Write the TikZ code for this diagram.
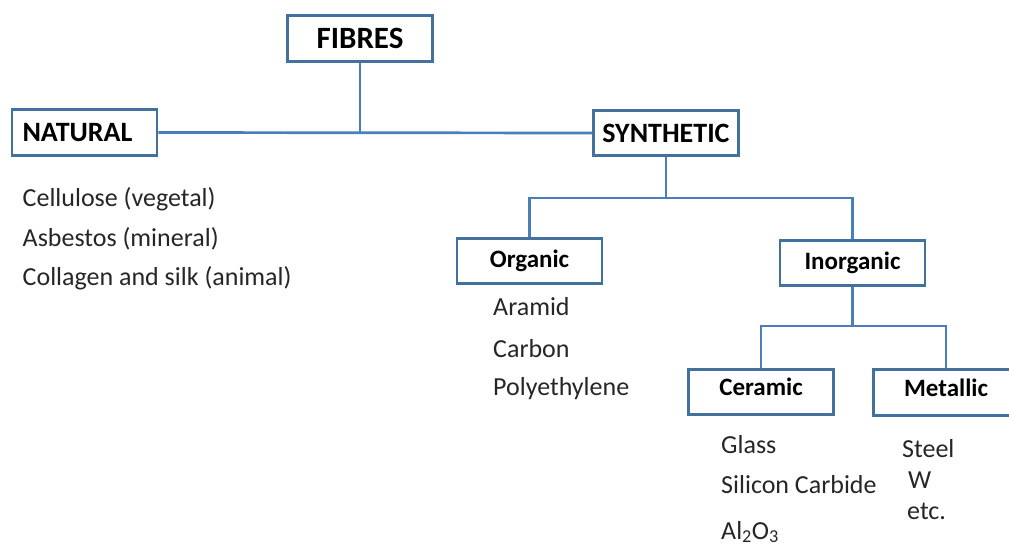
\documentclass[tikz,border=0pt]{standalone}
\usepackage{fontspec}
\setmainfont{Carlito}
\definecolor{boxblue}{HTML}{41719C}
\definecolor{lineblue}{HTML}{4A7EBB}
\definecolor{txt}{HTML}{262626}
\begin{document}
\begin{tikzpicture}[x=1pt,y=-1pt,
  box/.style={draw=boxblue, line width=2.9pt, fill=white, inner sep=0pt,
    minimum width=145pt, minimum height=45.5pt, text=black},
  big/.style={box, font=\fontsize{28}{30}\selectfont\bfseries},
  mid/.style={box, font=\fontsize{25}{27}\selectfont\bfseries},
  item/.style={anchor=base west, inner sep=0pt, text=txt, font=\fontsize{26}{28}\selectfont},
  conn/.style={draw=lineblue, line width=2.7pt}]
\useasboundingbox (0,0) rectangle (1009,546);
\clip (0,0) rectangle (1009,546);
% junctions
\coordinate (j1) at (360,132.5);
\coordinate (j2) at (666,198);
\coordinate (j3) at (852.5,326);
% boxes
\node[big, font=\fontsize{31}{33}\selectfont\bfseries] (fibres) at (360,38.5) {\raisebox{-2pt}{FIBRES}};
\node[big] (natural) at (84.5,132.5) {\raisebox{-1.5pt}{NATURAL}\hspace*{14pt}};
\node[big] (synthetic) at (666,133) {\raisebox{-1.5pt}{SYNTHETIC}};
\node[mid] (organic) at (529.5,261) {\raisebox{3pt}{Organic}};
\node[mid] (inorganic) at (852.5,263) {\raisebox{4pt}{Inorganic}};
\node[mid] (ceramic) at (761,392) {\raisebox{10pt}{Ceramic}};
\node[mid] (metallic) at (946,392.5) {\raisebox{10.5pt}{Metallic}};
% connectors
\draw[conn] (fibres.south) -- (j1);
\draw[conn] (natural.east) -- (synthetic.west);
\draw[conn] (synthetic.south) -- (j2);
\draw[conn] (organic.north) |- (j2) -| (inorganic.north);
\draw[conn] (inorganic.south) -- (j3);
\draw[conn] (ceramic.north) |- (j3) -| (metallic.north);
% items
\node[item] (n1) at (22.5,206) {Cellulose (vegetal)};
\node[item] (n2) at (22.5,246) {Asbestos (mineral)};
\node[item] (n3) at (22.5,285) {Collagen and silk (animal)};
\node[item] (o1) at (493,315) {Aramid};
\node[item] (o2) at (493,357) {Carbon};
\node[item] (o3) at (493,395) {Polyethylene};
\node[item] (c1) at (721,453) {Glass};
\node[item] (c2) at (721,493) {Silicon Carbide};
\node[item] (c3) at (721,539) {Al\textsubscript{2}O\textsubscript{3}};
\node[item] (m1) at (902,457) {Steel};
\node[item] (m2) at (908,488) {W};
\node[item] (m3) at (907,519) {etc.};
\end{tikzpicture}
\end{document}
